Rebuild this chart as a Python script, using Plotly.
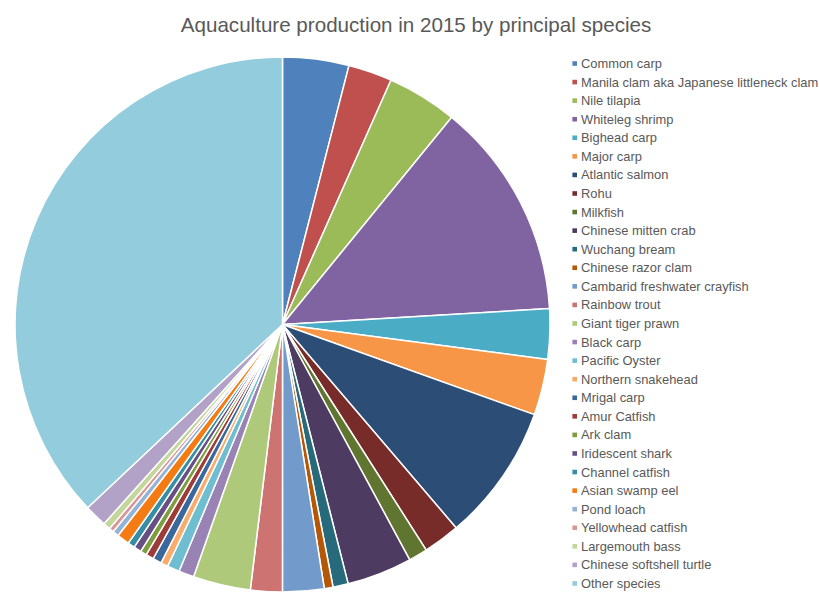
import plotly.graph_objects as go

species = [
    "Common carp", "Manila clam aka Japanese littleneck clam", "Nile tilapia",
    "Whiteleg shrimp", "Bighead carp", "Major carp", "Atlantic salmon", "Rohu",
    "Milkfish", "Chinese mitten crab", "Wuchang bream", "Chinese razor clam",
    "Cambarid freshwater crayfish", "Rainbow trout", "Giant tiger prawn",
    "Black carp", "Pacific Oyster", "Northern snakehead", "Mrigal carp",
    "Amur Catfish", "Ark clam", "Iridescent shark", "Channel catfish",
    "Asian swamp eel", "Pond loach", "Yellowhead catfish", "Largemouth bass",
    "Chinese softshell turtle", "Other species",
]

share = [
    4.0, 2.65, 4.25, 13.15, 3.03, 3.39, 8.28, 2.22, 1.14, 3.94, 0.92, 0.53,
    2.5, 1.92, 3.47, 0.93, 0.74, 0.44, 0.53, 0.47, 0.39, 0.46, 0.43, 0.75,
    0.375, 0.28, 0.44, 1.36, 37.01,
]

colors = [
    "#4F81BD", "#C0504D", "#9BBB59", "#8064A2", "#4BACC6", "#F79646",
    "#2C4D75", "#772C2A", "#5F7530", "#4D3B62", "#276A7C", "#B65708",
    "#729ACA", "#CD7371", "#AFC97A", "#9983B5", "#6FBDD1", "#F9AB6B",
    "#3A679C", "#9E3B39", "#7E9C40", "#664F83", "#358EA6", "#F47B13",
    "#95B3D7", "#D99694", "#C3D69B", "#B3A2C7", "#93CDDD",
]

W, H = 819, 592
font_family = "Liberation Sans, Arial, sans-serif"
text_color = "#595959"

fig = go.Figure()

fig.add_trace(go.Pie(
    labels=species,
    values=share,
    sort=False,
    direction="clockwise",
    rotation=0,
    textinfo="none",
    marker=dict(colors=colors, line=dict(color="white", width=1.5)),
    showlegend=False,
    domain=dict(x=[14 / W, 551 / W], y=[0, (H - 57) / H]),
))

# Custom legend: small square swatches + text labels
leg_top, leg_step = 63.5, 18.57
sw_x, sw_half = 574.7, 2.3
txt_x = 580
annotations = []
shapes = []
for i, (name, col) in enumerate(zip(species, colors)):
    yc = leg_top + i * leg_step
    shapes.append(dict(
        type="rect", xref="paper", yref="paper",
        x0=(sw_x - sw_half) / W, x1=(sw_x + sw_half) / W,
        y0=1 - (yc + sw_half) / H, y1=1 - (yc - sw_half) / H,
        fillcolor=col, line=dict(width=0),
    ))
    annotations.append(dict(
        text=name, xref="paper", yref="paper",
        x=txt_x / W, xanchor="left", y=1 - yc / H, yanchor="middle",
        showarrow=False, align="left", borderpad=0,
        font=dict(family=font_family, size=12.9, color=text_color),
    ))

fig.update_layout(
    width=W, height=H,
    margin=dict(l=0, r=0, t=0, b=0, autoexpand=False),
    paper_bgcolor="white", plot_bgcolor="white",
    title=dict(
        text="Aquaculture production in 2015 by principal species",
        x=416 / W, xanchor="center", y=1 - 25 / H, yanchor="middle",
        font=dict(family=font_family, size=20.6, color=text_color),
    ),
    showlegend=False,
    annotations=annotations,
    shapes=shapes,
)

fig.write_html("out.html")
